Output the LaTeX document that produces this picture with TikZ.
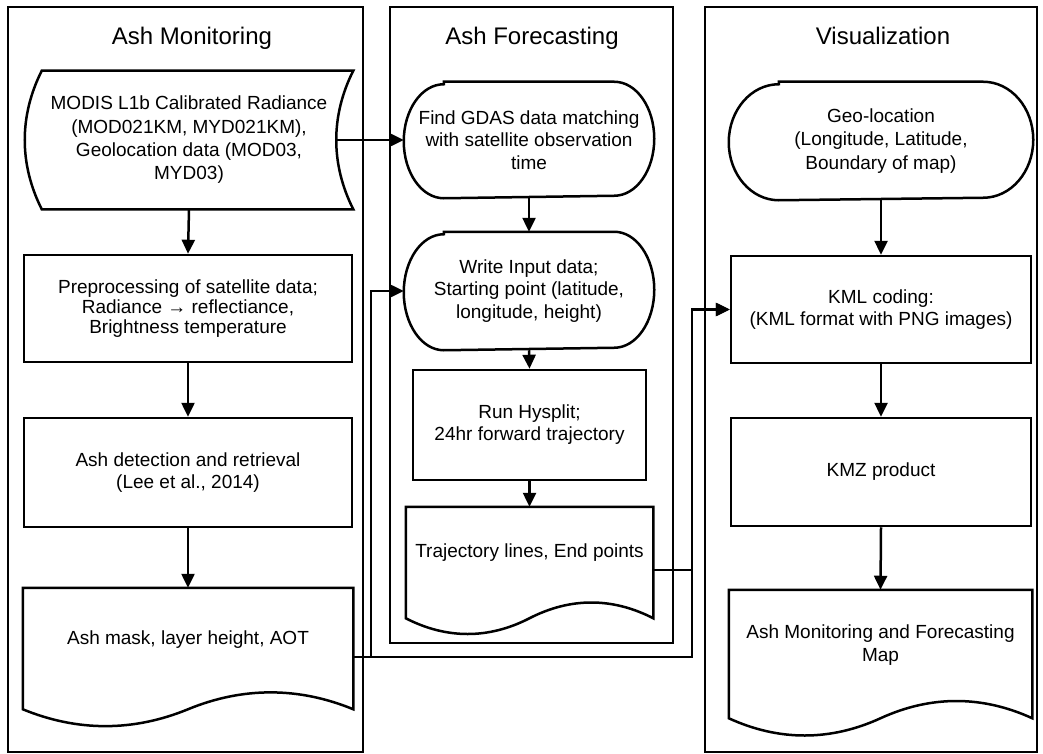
\documentclass[tikz,border=0pt]{standalone}
\usepackage{fontspec}
\setmainfont{Liberation Sans}
\usetikzlibrary{arrows.meta,calc}
\newcommand\bodyfnt{\fontsize{19}{22}\selectfont}
\newcommand\ttlfnt{\fontsize{24}{28}\selectfont}
\begin{document}
\begin{tikzpicture}[x=1pt,y=-1pt,line width=2.5pt,
  panel/.style={draw,rectangle,inner sep=0pt},
  box/.style={draw,rectangle,inner sep=0pt,align=center,font=\bodyfnt},
  ghost/.style={rectangle,inner sep=0pt,align=center,font=\bodyfnt},
  ttl/.style={font=\ttlfnt,anchor=base,inner sep=0pt},
  arr/.style={-{Triangle[length=14pt,width=13pt]}}]
\useasboundingbox (0,0) rectangle (1043,754);

% panels
\node[panel,minimum width=355pt,minimum height=745pt] (p1) at (185.5,379.5) {};
\node[panel,minimum width=283pt,minimum height=636pt] (p2) at (531.5,325) {};
\node[panel,minimum width=332pt,minimum height=745pt] (p3) at (871,379.5) {};

% titles
\node[ttl] (t1) at (192,44.5) {Ash Monitoring};
\node[ttl] (t2) at (532,44.5) {Ash Forecasting};
\node[ttl] (t3) at (883,44.5) {Visualization};

% ---- Ash Monitoring column
\node[ghost,minimum width=326pt,minimum height=136pt,font=\fontsize{19}{23.3}\selectfont] (md) at (189,140)
  {MODIS L1b Calibrated Radiance\\(MOD021KM, MYD021KM),\\Geolocation data (MOD03,\\MYD03)};
\draw ([xshift=17pt]md.north west) -- (md.north east)
  .. controls +(-22.67,45) and +(-22.67,-45) .. (md.south east)
  -- ([xshift=17pt]md.south west)
  .. controls +(-22.67,-45) and +(-22.67,45) .. ([xshift=17pt]md.north west) -- cycle;

\node[box,minimum width=328pt,minimum height=107pt,font=\fontsize{19}{20}\selectfont] (pre) at (188,308.5)
  {Preprocessing of satellite data;\\Radiance → reflectiance,\\Brightness temperature};
\node[box,minimum width=328pt,minimum height=109pt] (det) at (188,472.5)
  {Ash detection and retrieval\\(Lee et al., 2014)};
\node[ghost,minimum width=328pt,minimum height=102pt] (am) at (188,640)
  {Ash mask, layer height, AOT};
\draw (am.north west) -- (am.north east) -- ([yshift=-17pt]am.south east)
  .. controls +(-54.7,-22.5) and +(54.7,-22.5) .. ([yshift=-17pt]am.south)
  .. controls +(-54.7,22.5) and +(54.7,22.5) .. ([yshift=-17pt]am.south west) -- cycle;

% ---- Ash Forecasting column
\node[ghost,minimum width=248pt,minimum height=114pt,font=\fontsize{19}{22.5}\selectfont] (fg) at (529,140)
  {Find GDAS data matching\\with satellite observation\\time};
\draw ([xshift=40pt]fg.north west) -- ([xshift=-40pt]fg.north east)
  arc[start angle=90,end angle=-90,x radius=40pt,y radius=57pt]
  -- ([xshift=40pt]fg.south west)
  arc[start angle=270,end angle=90,x radius=40pt,y radius=57pt] -- cycle;

\node[ghost,minimum width=248pt,minimum height=116pt,font=\fontsize{19}{22.5}\selectfont] (wi) at (529,291)
  {Write Input data;\\Starting point (latitude,\\longitude, height)};
\draw ([xshift=40pt]wi.north west) -- ([xshift=-40pt]wi.north east)
  arc[start angle=90,end angle=-90,x radius=40pt,y radius=58pt]
  -- ([xshift=40pt]wi.south west)
  arc[start angle=270,end angle=90,x radius=40pt,y radius=58pt] -- cycle;

\node[box,minimum width=233pt,minimum height=110pt] (rh) at (529.5,425)
  {Run Hysplit;\\24hr forward trajectory};
\node[ghost,minimum width=245pt,minimum height=90pt] (tr) at (529.5,553)
  {Trajectory lines, End points};
\draw (tr.north west) -- (tr.north east) -- ([yshift=-19pt]tr.south east)
  .. controls +(-40.8,-21) and +(40.8,-21) .. ([yshift=-19pt]tr.south)
  .. controls +(-40.8,21) and +(40.8,21) .. ([yshift=-19pt]tr.south west) -- cycle;

% ---- Visualization column
\node[ghost,minimum width=302pt,minimum height=116pt,font=\fontsize{19}{23.3}\selectfont] (geo) at (881,141)
  {Geo-location\\(Longitude, Latitude,\\Boundary of map)};
\draw ([xshift=50pt]geo.north west) -- ([xshift=-50pt]geo.north east)
  arc[start angle=90,end angle=-90,x radius=50pt,y radius=58pt]
  -- ([xshift=50pt]geo.south west)
  arc[start angle=270,end angle=90,x radius=50pt,y radius=58pt] -- cycle;

\node[box,minimum width=300pt,minimum height=107pt] (kml) at (881,309.5)
  {KML coding:\\(KML format with PNG images)};
\node[box,minimum width=300pt,minimum height=108pt] (kmz) at (881,472)
  {KMZ product};
\node[ghost,minimum width=301pt,minimum height=108pt,font=\fontsize{19}{23.5}\selectfont] (fin) at (880.5,645)
  {Ash Monitoring and Forecasting\\Map};
\draw (fin.north west) -- (fin.north east) -- ([yshift=-18pt]fin.south east)
  .. controls +(-50.2,-23) and +(50.2,-23) .. ([yshift=-18pt]fin.south)
  .. controls +(-50.2,23) and +(50.2,23) .. ([yshift=-18pt]fin.south west) -- cycle;

% ---- connectors
\coordinate (mdout) at ([xshift=-17pt]md.east);
\coordinate (amout) at ([yshift=-17pt]am.east);
\coordinate (trout) at ([yshift=-17pt]tr.east);
\coordinate (bus1) at ([xshift=-33pt]wi.west);
\coordinate (bus2) at ([xshift=-38pt]kml.west);

\draw[arr] (md.south) -- (pre.north);
\draw[arr] (pre.south) -- (det.north);
\draw[arr] (det.south) -- (am.north);
\draw[arr] (fg.south) -- (wi.north);
\draw[arr] (wi.south) -- (rh.north);
\draw[arr] (rh.south) -- (tr.north);
\draw[arr] (geo.south) -- (kml.north);
\draw[arr] (kml.south) -- (kmz.north);
\draw[arr] (kmz.south) -- (fin.north);

\draw[arr] (mdout) -- (fg.west);
\draw[arr] (amout) -| (bus1) -- (wi.west);
\draw[arr] (amout) -| (bus2) -- (kml.west);
\draw[arr] (trout) -| (bus2) -- (kml.west);
\end{tikzpicture}
\end{document}
